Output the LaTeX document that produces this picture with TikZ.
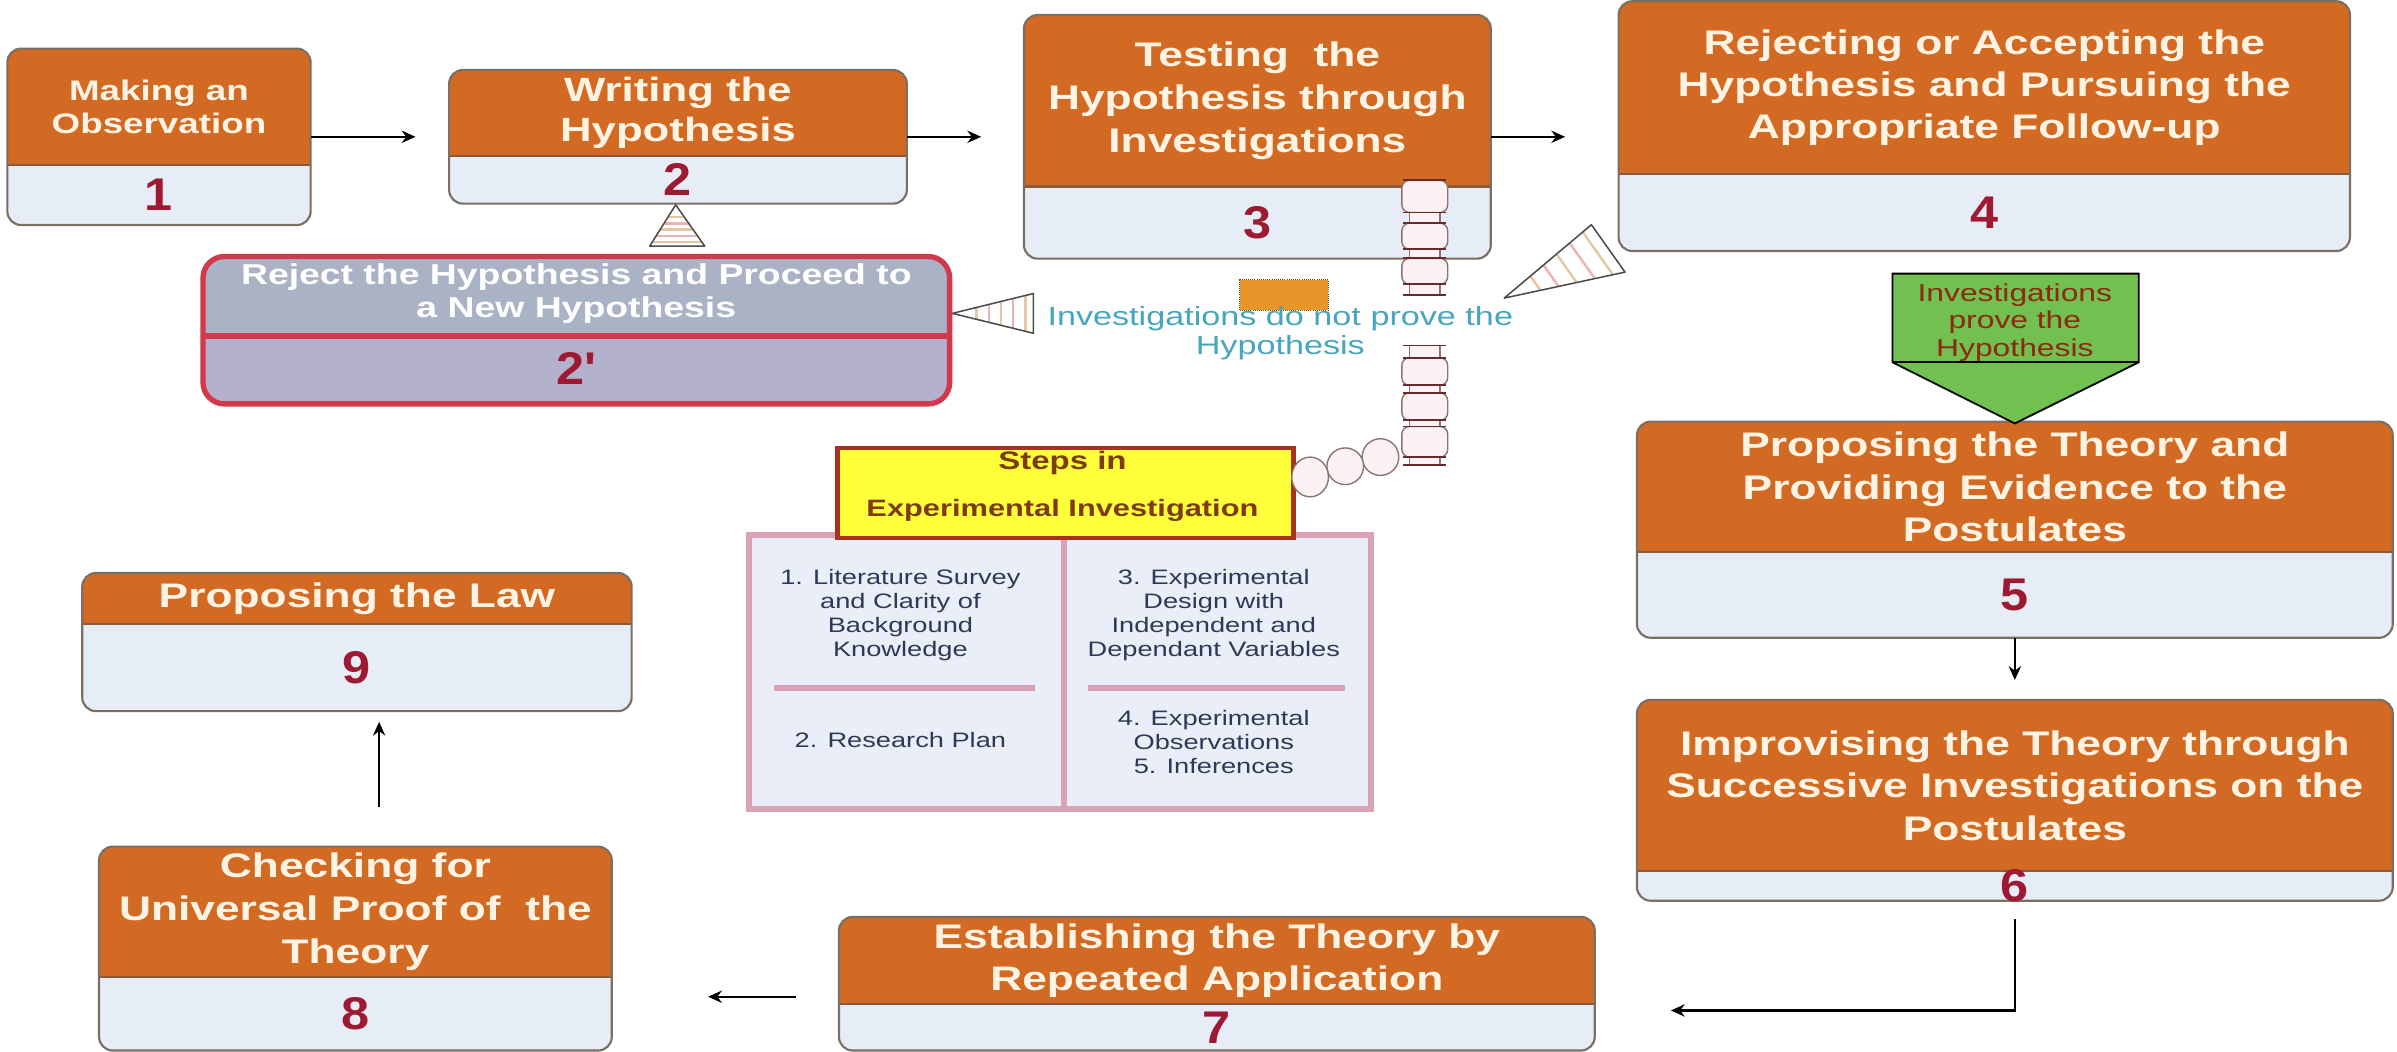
\documentclass[tikz,border=0pt]{standalone}
\usepackage{fontspec}
\setmainfont{Liberation Sans}
\newfontfamily\ttl[FakeStretch=1.3]{Liberation Sans}
\newfontfamily\numf[FakeStretch=1.1]{Liberation Sans}
\usetikzlibrary{arrows.meta,calc}
\definecolor{hdrc}{HTML}{D26A24}
\definecolor{panelc}{HTML}{E7EDF7}
\definecolor{boxl}{HTML}{7D6E62}
\definecolor{hdrl}{HTML}{8B5A3C}
\definecolor{ttlc}{HTML}{FFF3E3}
\definecolor{numc}{HTML}{9E1A32}
\definecolor{rejtop}{HTML}{A9B3C5}
\definecolor{rejbot}{HTML}{B3B1CB}
\definecolor{rejl}{HTML}{D3394D}
\definecolor{greenc}{HTML}{72C050}
\definecolor{gtxtc}{HTML}{8A2A10}
\definecolor{yell}{HTML}{FFFF3A}
\definecolor{yelll}{HTML}{A8321E}
\definecolor{steptxt}{HTML}{7E3A10}
\definecolor{tabf}{HTML}{E9EEF8}
\definecolor{tabl}{HTML}{D9A3B5}
\definecolor{tabtxt}{HTML}{2E3A55}
\definecolor{tealc}{HTML}{47A6BE}
\definecolor{orectc}{HTML}{E8952A}
\definecolor{stripeA}{HTML}{E6C7A3}
\definecolor{stripeB}{HTML}{EDB3B3}
\definecolor{chainf}{HTML}{FCF2F3}
\definecolor{chainl}{HTML}{8C7272}
\definecolor{rungc}{HTML}{6A2A2A}
% name x1 y1 x2 y2 yheader title number {size}{skip}
\newcommand\stagebox[9]{%
  \node[boxnode, minimum width={(#4-#2)*1pt}, minimum height={(#5-#3)*1pt}] (#1) at ({(#2+#4)/2},{(#3+#5)/2}) {};
  \begin{scope}
    \clip[rounded corners=9pt] (#1.north west) rectangle (#1.south east);
    \fill[hdrc] (#2,#3) rectangle (#4,#6);
  \end{scope}
  \draw[hdrline] (#2,#6) -- (#4,#6);
  \draw[boxline] (#1.north west) rectangle (#1.south east);
  \node[titletxt, font=\ttl\bfseries\fontsize#9\selectfont] (#1t) at ({(#2+#4)/2},{(#3+#6)/2}) {#7};
  \node[numtxt] (#1n) at ({(#2+#4)/2},{(#6+#5)/2}) {#8};
}
\newcommand\hatchtri[3]{%
  \coordinate (hA) at (#1); \coordinate (hB) at (#2); \coordinate (hC) at (#3);
  \fill[white] (hA) -- (hB) -- (hC) -- cycle;
  \foreach \hp/\hcol in {0.3/stripeA,0.45/stripeB,0.6/stripeA,0.75/stripeB,0.9/stripeA}
    \draw[\hcol, line width=1.6pt] ($(hA)!\hp!(hB)$) -- ($(hA)!\hp!(hC)$);
  \draw[draw=black!70, line width=1pt, line join=round] (hA) -- (hB) -- (hC) -- cycle;
}
\begin{document}
\begin{tikzpicture}[x=1pt,y=-1pt,
  boxnode/.style={rectangle, rounded corners=9pt, fill=panelc, inner sep=0pt},
  boxline/.style={draw=boxl, line width=1.4pt, rounded corners=9pt},
  hdrline/.style={draw=hdrl, line width=1.4pt},
  titletxt/.style={text=ttlc, align=center, inner sep=0pt},
  numtxt/.style={text=numc, inner sep=0pt, font=\numf\bfseries\fontsize{30}{30}\selectfont},
  arr/.style={-{Stealth[length=9pt,width=8pt]}, line width=1.5pt, black},
  tabtext/.style={text=tabtxt, align=center, inner sep=0pt, font=\ttl\fontsize{13.7}{15.6}\selectfont},
  chainlink/.style={draw=chainl, fill=chainf, line width=0.9pt},
  rung/.style={draw=rungc, line width=1.2pt}
]
\fill[white] (0,0) rectangle (1568,688);
\useasboundingbox (0,0) rectangle (1568,688);

% ---- stage boxes
\stagebox{b1}{5}{32}{203}{147}{108}{Making an\\Observation}{1}{{18.5}{22}}
\stagebox{b2}{294}{46}{593}{133}{102}{Writing the\\Hypothesis}{2}{{22}{26}}
\stagebox{b3}{670}{10}{975}{169}{122}{Testing\ \ the\\Hypothesis through\\Investigations}{3}{{22.3}{28}}
\stagebox{b4}{1059}{1}{1537}{164}{114}{Rejecting or Accepting the\\Hypothesis and Pursuing the\\Appropriate Follow-up}{4}{{22.3}{27.5}}
\stagebox{b5}{1071}{276}{1565}{417}{361}{Proposing the Theory and\\Providing Evidence to the\\Postulates}{5}{{22.3}{28}}
\stagebox{b6}{1071}{458}{1565}{589}{570}{Improvising the Theory through\\Successive Investigations on the\\Postulates}{6}{{22.3}{28}}
\stagebox{b7}{549}{600}{1043}{687}{657}{Establishing the Theory by\\Repeated Application}{7}{{22.3}{27}}
\stagebox{b8}{65}{554}{400}{687}{639}{Checking for\\Universal Proof of\ \ the\\Theory}{8}{{22.3}{28}}
\stagebox{b9}{54}{375}{413}{465}{408}{Proposing the Law}{9}{{22.3}{28}}

% ---- rejected hypothesis box
\node[rectangle, rounded corners=14pt, fill=rejtop, minimum width=488pt, minimum height=96pt, inner sep=0pt] (b2p) at (377,216) {};
\begin{scope}
  \clip[rounded corners=14pt] (b2p.north west) rectangle (b2p.south east);
  \fill[rejbot] (133,220) rectangle (621,264);
\end{scope}
\draw[rejl, line width=4pt] (133,220) -- (621,220);
\draw[rejl, line width=3.5pt, rounded corners=14pt] (b2p.north west) rectangle (b2p.south east);
\node[text=white, align=center, inner sep=0pt, font=\ttl\bfseries\fontsize{18.8}{22}\selectfont] (b2pt) at (377,192) {Reject the Hypothesis and Proceed to\\a New Hypothesis};
\node[numtxt] (b2pn) at (377,241) {2'};

% ---- connectors
\draw[arr, shorten >=22pt] (b1.east) -- (b2.west);
\draw[arr, shorten >=28pt] (b2.east) -- (b3.west);
\draw[arr, shorten >=35pt] (b3.east) -- (b3.east -| b4.west);
\draw[arr, shorten >=13pt] (b5.south) -- (b6.north);
\coordinate (c67) at (1093,661);
\draw[arr, shorten <=12pt] (b6.south) |- (c67);
\draw[arr, shorten <=28pt, shorten >=63pt] (b7.west |- 0,652) -- (b8.east |- 0,652);
\draw[arr, shorten <=26pt, shorten >=7pt] (b8.north -| 248,0) -- (b9.south -| 248,0);

% ---- hatched pointers
\hatchtri{442,134}{425,161}{461,161}
\hatchtri{623,205}{676,192}{676,218}
\hatchtri{984,195}{1041,147}{1063,178}

% ---- green arrow
\draw[fill=greenc, draw=black, line width=1.2pt, line join=miter] (1238,179) -- (1399,179) -- (1399,237) -- (1318,277) -- (1238,237) -- cycle;
\draw[black, line width=1.2pt] (1238,237) -- (1399,237);
\node[text=gtxtc, align=center, inner sep=0pt, font=\ttl\fontsize{16}{18}\selectfont] (gtxt) at (1318,211) {Investigations\\prove the\\Hypothesis};

% ---- investigations do not prove
\node[draw=steptxt, densely dotted, fill=orectc, minimum width=58pt, minimum height=20pt, inner sep=0pt] (orect) at (840,193) {};
\node[text=tealc, align=center, inner sep=0pt, font=\ttl\fontsize{17.2}{19}\selectfont] (nottxt) at (837.5,218) {Investigations do not prove the\\Hypothesis};

% ---- steps table
\node[draw=tabl, fill=tabf, line width=4pt, minimum width=206pt, minimum height=179pt, inner sep=0pt] (tabL) at (593,439.5) {};
\node[draw=tabl, fill=tabf, line width=4pt, minimum width=201pt, minimum height=179pt, inner sep=0pt] (tabR) at (796.5,439.5) {};
\draw[tabl, line width=3.5pt] (506,450) -- (677,450);
\draw[tabl, line width=3.5pt] (712,450) -- (880,450);
\node[tabtext] (t1) at (589,402.5) {1. Literature Survey\\and Clarity of\\Background\\Knowledge};
\node[tabtext] (t2) at (589,484) {2. Research Plan};
\node[tabtext] (t3) at (794,402.5) {3. Experimental\\Design with\\Independent and\\Dependant Variables};
\node[tabtext] (t4) at (794,485.5) {4. Experimental\\Observations\\5. Inferences};

\node[draw=yelll, fill=yell, line width=3pt, minimum width=298pt, minimum height=59pt, inner sep=0pt] (steps) at (697,322.5) {};
\node[text=steptxt, inner sep=0pt, font=\ttl\bfseries\fontsize{16.6}{18}\selectfont] (stepsa) at (695,303) {Steps in};
\node[text=steptxt, inner sep=0pt, font=\ttl\bfseries\fontsize{15.5}{18}\selectfont] (stepsb) at (695,334) {Experimental Investigation};

% ---- chain
\foreach \a/\b in {118/139,146/163,169/186}
  \draw[chainlink, rounded corners=5pt] (917,\a) rectangle (947,\b);
\foreach \a/\b in {139/146,163/169,186/193} {
  \draw[chainlink] (922,\a) rectangle (942,\b);
  \draw[rung] (918,\a) -- (946,\a);
  \draw[rung] (918,\b) -- (946,\b);
}
\draw[rung] (918,118) -- (946,118);
\foreach \a/\b in {234/252,257/275,279/299}
  \draw[chainlink, rounded corners=5pt] (917,\a) rectangle (947,\b);
\foreach \a/\b in {226/234,252/257,275/279,299/304} {
  \draw[chainlink] (922,\a) rectangle (942,\b);
  \draw[rung] (918,\a) -- (946,\a);
  \draw[rung] (918,\b) -- (946,\b);
}
\draw[chainlink] (903,299) ellipse [x radius=12pt, y radius=12pt];
\draw[chainlink] (880,305) ellipse [x radius=12pt, y radius=12pt];
\draw[chainlink] (857,312) ellipse [x radius=12pt, y radius=13pt];
\end{tikzpicture}
\end{document}
